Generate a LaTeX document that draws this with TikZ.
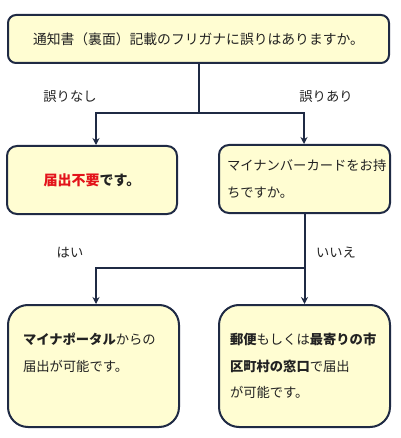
\documentclass[tikz,border=0pt]{standalone}
\usepackage{fontspec}
\setmainfont{Noto Sans CJK JP}
\usetikzlibrary{arrows.meta}
\definecolor{boxfill}{HTML}{FFFDD2}
\definecolor{navy}{HTML}{1F2A44}
\definecolor{ink}{HTML}{222222}
\definecolor{alert}{HTML}{E3141B}
\begin{document}
\begin{tikzpicture}[x=1pt,y=-1pt,
 box/.style={draw=navy, line width=2pt, fill=boxfill, rounded corners=#1, inner ysep=0pt, text=ink, font=\fontsize{13.3}{26.8}\selectfont},
 conn/.style={draw=navy, line width=2pt, line cap=rect},
 arr/.style={draw=navy, line width=2pt, -{Stealth[length=7pt,width=7pt]}},
 lbl/.style={text=ink, font=\fontsize{13.3}{15}\selectfont, inner sep=0pt}]
\useasboundingbox (0,0) rectangle (400,438);
\node[box=8pt, minimum width=381pt, minimum height=48pt, font=\fontsize{13.8}{16}\selectfont] (top) at (198.5,39) {通知書（裏面）記載のフリガナに誤りはありますか。};
\node[box=10pt, minimum width=170pt, minimum height=68pt, font=\fontsize{14}{16}\selectfont] (ml) at (92,180) {\bfseries\textcolor{alert}{届出不要}です。};
\node[box=10pt, text width=155pt, inner xsep=8pt, align=left, minimum height=68pt] (mr) at (304.5,179) {マイナンバーカードをお持\\ちですか。};
\node[box=20pt, text width=141pt, inner xsep=15pt, align=left, minimum height=122pt] (bl) at (93.5,366) {\textbf{マイナポータル}からの\\届出が可能です。\\\phantom{が}};
\node[box=20pt, text width=149pt, inner xsep=11pt, align=left, minimum height=122pt] (br) at (304.5,366) {\textbf{郵便}もしくは\textbf{最寄りの市}\\\textbf{区町村の窓口}で届出\\が可能です。};
\coordinate (jl) at (96,113);
\coordinate (jr) at (304,113);
\coordinate (kl) at (96,268);
\draw[conn] (top.south) -- (top.south |- jl);
\draw[conn] (jl) -- (jr);
\draw[arr] (jl) -- (jl |- ml.north);
\draw[arr] (jr) -- (jr |- mr.north);
\draw[arr] (mr.south) -- (mr.south |- br.north);
\draw[conn] (kl) -- (mr.south |- kl);
\draw[arr] (kl) -- (kl |- bl.north);
\node[lbl] (l1) at (70,97) {誤りなし};
\node[lbl] (l2) at (326,97) {誤りあり};
\node[lbl] (l3) at (70,253) {はい};
\node[lbl] (l4) at (336,253) {いいえ};
\end{tikzpicture}
\end{document}
